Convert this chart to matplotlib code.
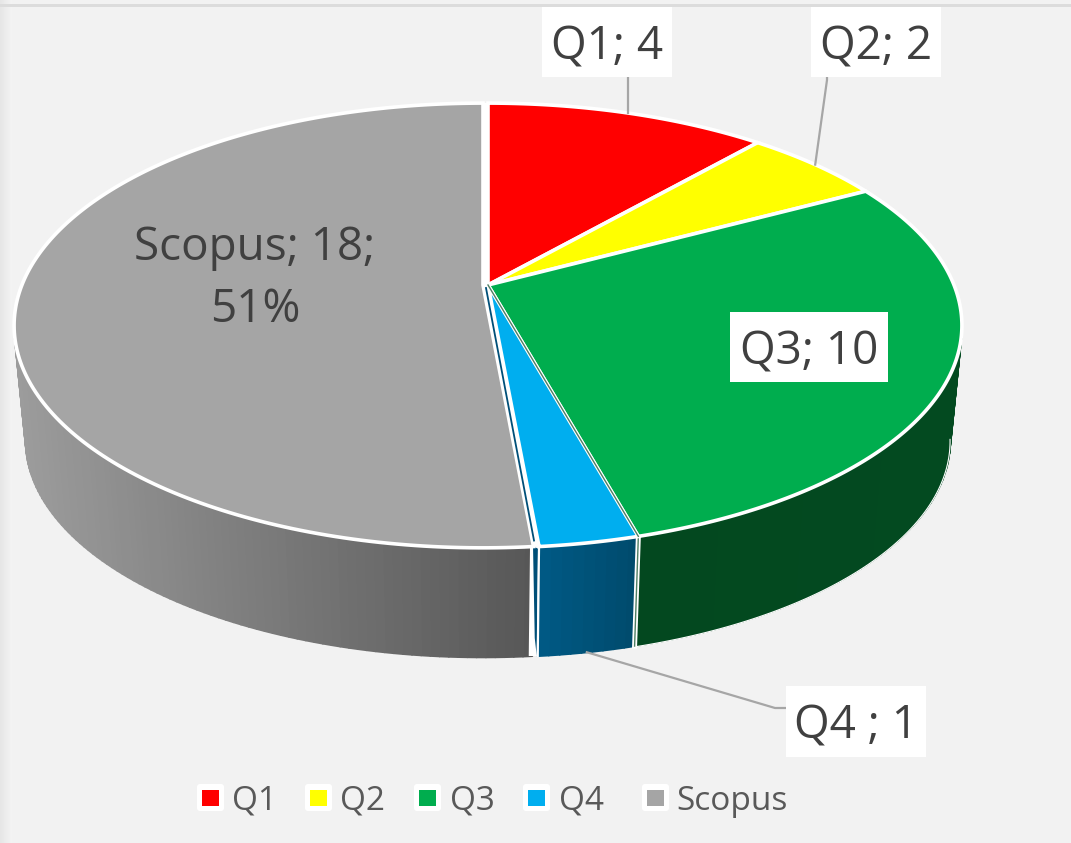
import matplotlib
matplotlib.use("Agg")
import matplotlib.pyplot as plt
import numpy as np
from matplotlib.collections import PolyCollection
from matplotlib.patches import FancyBboxPatch

categories = ["Q1", "Q2", "Q3", "Q4", "Scopus"]
values = [4, 2, 10, 1, 18]
label_texts = ["Q1; 4", "Q2; 2", "Q3; 10", "Q4 ; 1", "Scopus; 18;\n51%"]

top_colors = ["#ff0000", "#ffff00", "#00ad4e", "#00aeef", "#a5a5a5"]
side_left = ["#990000", "#999900", "#03481f", "#005a85", "#9c9c9c"]
side_right = ["#990000", "#999900", "#034a20", "#004a6c", "#565656"]

plt.rcParams["font.family"] = ["Open Sans", "DejaVu Sans"]
text_color = "#404040"

# perspective of the pie, in pixels of the picture
cx, cy = 488, 285
A, B, k = 466, 215, 0.182
depth, shrink = 116, 0.975
wall_start = np.radians(100)
wall_end = np.radians(260)


def top_rim(theta):
    u, v = np.sin(theta), np.cos(theta)
    d = 1 + k * v
    return cx + A * u / d, cy - B * v / d


def bottom_rim(theta):
    x, y = top_rim(theta)
    return cx + (x - cx) * shrink, cy + depth + (y - cy) * shrink


def pull_left(x):
    # the biggest slice sits a little apart from the others
    return x - 5 * (x - 14) / (cx - 14)


def mix(c1, c2, t):
    a = np.array(matplotlib.colors.to_rgb(c1))
    b = np.array(matplotlib.colors.to_rgb(c2))
    return tuple(a + (b - a) * t)


fig = plt.figure(figsize=(10.71, 8.43), dpi=100, facecolor="#f2f2f2")
ax = fig.add_axes([0, 0, 1, 1])

# screenshot edges
ax.imshow(np.linspace(0.90, 0.95, 12).reshape(1, -1), cmap="gray", vmin=0, vmax=1,
          extent=(0, 12, 843, 0), aspect="auto", zorder=0)
ax.set_xlim(0, 1071)
ax.set_ylim(843, 0)
ax.axis("off")
ax.fill_between([0, 1071], 4, 7, color="#dcdcdc", lw=0, zorder=1)

fractions = np.array(values) / sum(values)
edges = np.concatenate([[0], np.cumsum(fractions)]) * 2 * np.pi

# side walls, only the front of the pie shows them
for i in range(len(values)):
    lo, hi = max(edges[i], wall_start), min(edges[i + 1], wall_end)
    if hi <= lo:
        continue
    steps = np.linspace(lo, hi, max(3, int((hi - lo) * 60)))
    span0, span1 = top_rim(lo)[0], top_rim(hi)[0]
    polys, cols = [], []
    for a, b in zip(steps[:-1], steps[1:]):
        xa, ya = top_rim(a)
        xb, yb = top_rim(b)
        xc, yc = bottom_rim(b)
        xd, yd = bottom_rim(a)
        if i == 4:
            xa, xb, xc, xd = pull_left(xa), pull_left(xb), pull_left(xc), pull_left(xd)
        polys.append([(xa, ya), (xb, yb), (xc, yc), (xd, yd)])
        # shading runs left to right across the picture
        t = ((xa + xb) / 2 - min(span0, span1)) / abs(span1 - span0)
        cols.append(mix(side_left[i], side_right[i], t))
    ax.add_collection(PolyCollection(polys, facecolors=cols, edgecolors=cols,
                                     linewidths=1.5, zorder=2))

# outer outline of the wall
tt = np.linspace(wall_start, edges[3], 80)
bx, by = bottom_rim(tt)
ax.plot(bx, by + 0.8, color="white", lw=0.8, zorder=3)

# seams on the front wall
t_q3 = edges[3]
t_q4 = edges[4]
xa, ya = top_rim(t_q4)
xb, yb = bottom_rim(t_q4)
ax.fill([xa - 9, xa, xb, xb - 9], [ya, ya, yb, yb], color="white", lw=0, zorder=2.5)
ax.fill([xa - 6, xa - 1, xb - 1, xb - 3], [ya, ya + 2, yb, yb - 18], color="#004f78",
        lw=0, zorder=2.6)
ax.plot([xa, xb], [ya, yb], color="white", lw=1.6, zorder=3)
xa, ya = top_rim(t_q3)
xb, yb = bottom_rim(t_q3)
ax.plot([xa, xb], [ya, yb], color="white", lw=3.6, zorder=3)
ax.plot([xa, xb], [ya, yb], color="#4f7f63", lw=1.0, zorder=3.1)

# white gaps on either side of the big slice
xa, ya = top_rim(t_q4)
ax.fill([cx - 5, cx, xa, xa - 9], [cy, cy, ya, ya], color="white", lw=0, zorder=3.5)
ax.fill([cx - 5, cx, cx, cx - 5], [cy, cy, 103, 103], color="white", lw=0, zorder=3.5)

# top faces
for i in range(len(values)):
    tt = np.linspace(edges[i], edges[i + 1], 200)
    x, y = top_rim(tt)
    xs = np.concatenate([[cx], x])
    ys = np.concatenate([[cy], y])
    if i == 4:
        xs = pull_left(xs)
    ax.fill(xs, ys, facecolor=top_colors[i], edgecolor="white", lw=2.6,
            joinstyle="miter", zorder=4)
xa, ya = top_rim(t_q4)
ax.plot([cx - 2, xa - 5], [cy + 3, ya - 6], color="#004f78", lw=1.3, zorder=4.2)
xa, ya = top_rim(t_q3)
ax.plot([cx, xa], [cy, ya], color="#4f7f63", lw=1.0, zorder=4.2)

# leader lines
line_style = dict(color="#a6a6a6", lw=1.6, zorder=5)
x_q1, y_q1 = top_rim((edges[0] + edges[1]) / 2)
ax.plot([x_q1, x_q1], [y_q1, 77], **line_style)
x_q2, y_q2 = top_rim((edges[1] + edges[2]) / 2)
ax.plot([x_q2, 827, 827], [y_q2, 80, 77], **line_style)
x_q4, y_q4 = bottom_rim((edges[3] + edges[4]) / 2)
ax.plot([x_q4, 775, 786], [y_q4, 708, 708], **line_style)

# data labels with white boxes
boxes = [(542, 7, 130, 70), (811, 7, 130, 70), (730, 312, 158, 70), (786, 686, 140, 71)]
for txt, (bx0, by0, bw, bh) in zip(label_texts[:4], boxes):
    ax.fill([bx0, bx0 + bw, bx0 + bw, bx0], [by0, by0, by0 + bh, by0 + bh],
            color="white", lw=0, zorder=6)
    ax.text(bx0 + bw / 2, by0 + bh / 2, txt, fontsize=33, color=text_color,
            ha="center", va="center_baseline", zorder=7)
ax.text(255, 279, label_texts[4], fontsize=33, color=text_color, ha="center",
        va="center", linespacing=1.45, zorder=7)

# legend
leg_square = [202, 310, 419, 528, 647]
leg_text = [232, 340, 450, 559, 676]
for name, col, sx, tx in zip(categories, top_colors, leg_square, leg_text):
    ax.add_patch(FancyBboxPatch((sx - 5, 784), 27, 27,
                                boxstyle="round,pad=0,rounding_size=3",
                                facecolor="white", edgecolor="none", zorder=6))
    ax.fill([sx, sx + 17, sx + 17, sx], [790, 790, 806, 806], color=col, lw=0, zorder=7)
    ax.text(tx, 797, name, fontsize=24, color="#595959", ha="left",
            va="center_baseline", zorder=7)

fig.savefig("out.png", dpi=100, facecolor=fig.get_facecolor())
